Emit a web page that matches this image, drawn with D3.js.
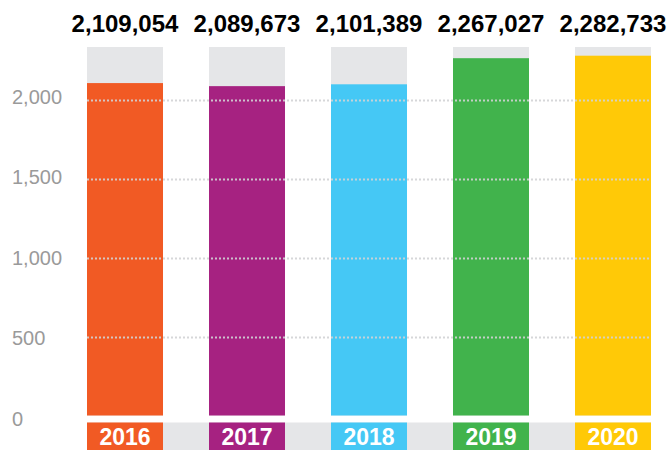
<!DOCTYPE html>
<html>
<head>
<meta charset="utf-8">
<script src="https://cdn.jsdelivr.net/npm/d3@7"></script>
<style>
  html, body { margin: 0; padding: 0; background: #fff; }
  svg { display: block; font-family: "Liberation Sans", Arial, Helvetica, sans-serif; }
</style>
</head>
<body>
<svg id="chart" width="669" height="450"></svg>
<script>
// Yearly totals (absolute values) and the years they belong to
const years = ["2016", "2017", "2018", "2019", "2020"];
const totals = [2109054, 2089673, 2101389, 2267027, 2282733];
const barColors = ["#F15A24", "#A62281", "#45C8F5", "#41B34C", "#FFC907"];

// Axis ticks (in thousands)
const tickValues = [0, 500, 1000, 1500, 2000];
const axisMax = 2338; // top of the grey track, thousands

const svg = d3.select("#chart");

const x = d3.scaleBand()
  .domain(years)
  .range([87, 651])
  .paddingInner(0.377)
  .paddingOuter(0);

const y = d3.scaleLinear()
  .domain([0, axisMax])
  .range([415.5, 47]);

// tick labels sit on their own slightly wider rhythm
const yLabel = d3.scaleLinear()
  .domain([0, 2000])
  .range([425.7, 103.6]);

const fmt = d3.format(",");

const data = years.map((yr, i) => ({ year: yr, total: totals[i], color: barColors[i] }));

// grey tracks behind the bars
svg.append("g").selectAll("rect")
  .data(data)
  .join("rect")
  .attr("x", d => x(d.year))
  .attr("width", x.bandwidth())
  .attr("y", y(axisMax))
  .attr("height", y(0) - y(axisMax))
  .attr("fill", "#E5E6E8");

// value bars (thousands)
svg.append("g").selectAll("rect")
  .data(data)
  .join("rect")
  .attr("x", d => x(d.year))
  .attr("width", x.bandwidth())
  .attr("y", d => y(d.total / 1000))
  .attr("height", d => y(0) - y(d.total / 1000))
  .attr("fill", d => d.color);

// dotted gridlines over the bars
svg.append("g").selectAll("line")
  .data(tickValues.filter(v => v > 0))
  .join("line")
  .attr("x1", x.range()[0])
  .attr("x2", x.range()[1])
  .attr("y1", d => Math.round(y(d)) + 0.5)
  .attr("y2", d => Math.round(y(d)) + 0.5)
  .attr("stroke", "#d2d3d5")
  .attr("stroke-opacity", 0.9)
  .attr("stroke-width", 2)
  .attr("stroke-dasharray", "2,2");

// y tick labels
svg.append("g").selectAll("text")
  .data(tickValues)
  .join("text")
  .attr("x", 12)
  .attr("y", d => yLabel(d))
  .attr("fill", "#9a9a9a")
  .attr("font-size", 20)
  .text(d => fmt(d));

// value labels above the tracks
svg.append("g").selectAll("text")
  .data(data)
  .join("text")
  .attr("x", d => x(d.year) + x.bandwidth() / 2)
  .attr("y", 31.5)
  .attr("text-anchor", "middle")
  .attr("font-size", 24)
  .attr("font-weight", "bold")
  .attr("fill", "#000")
  .text(d => fmt(d.total));

// year band along the bottom
svg.append("rect")
  .attr("x", x.range()[0])
  .attr("width", x.range()[1] - x.range()[0])
  .attr("y", 422.5)
  .attr("height", 30)
  .attr("fill", "#E5E6E8");

const yearCells = svg.append("g").selectAll("g")
  .data(data)
  .join("g");

yearCells.append("rect")
  .attr("x", d => x(d.year))
  .attr("width", x.bandwidth())
  .attr("y", 422.5)
  .attr("height", 30)
  .attr("fill", d => d.color);

yearCells.append("text")
  .attr("x", d => x(d.year) + x.bandwidth() / 2)
  .attr("y", 444.5)
  .attr("text-anchor", "middle")
  .attr("font-size", 23)
  .attr("font-weight", "bold")
  .attr("fill", "#fff")
  .text(d => d.year);
</script>
</body>
</html>
